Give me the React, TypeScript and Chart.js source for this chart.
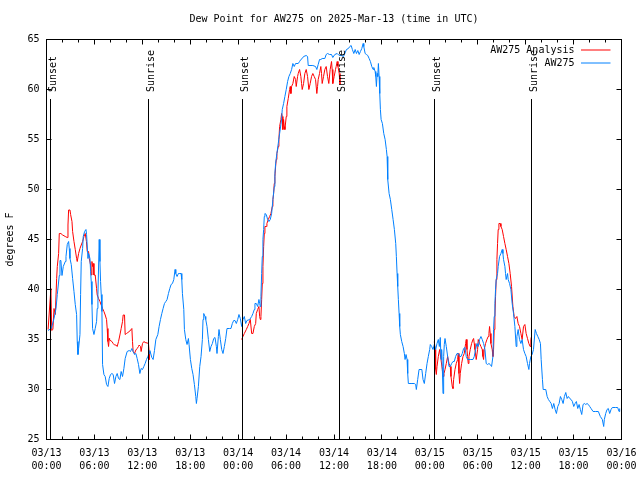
import { useEffect, useRef } from 'react';
import { Chart, registerables } from 'chart.js';

Chart.register(...registerables);

const TITLE = 'Dew Point for AW275 on 2025-Mar-13 (time in UTC)';
const Y_TITLE = 'degrees F';
const FONT = '"DejaVu Sans Mono", "Liberation Mono", monospace';

// x tick labels, one per 6 hours from 03/13 00:00 UTC
const xTickDates = ['03/13', '03/13', '03/13', '03/13', '03/14', '03/14', '03/14', '03/14', '03/15', '03/15', '03/15', '03/15', '03/16'];
const xTickTimes = ['00:00', '06:00', '12:00', '18:00', '00:00', '06:00', '12:00', '18:00', '00:00', '06:00', '12:00', '18:00', '00:00'];
const yTicks = [25, 30, 35, 40, 45, 50, 55, 60, 65];

// sun events (hours since 03/13 00:00 UTC)
const eventHours = [0.5, 12.77, 24.54, 36.69, 48.58, 60.73];
const eventNames = ['Sunset', 'Sunrise', 'Sunset', 'Sunrise', 'Sunset', 'Sunrise'];

// AW275 observed (hours since 03/13 00:00 UTC)
const blueHours = [
  0.19, 0.6, 0.94, 1.19, 1.35, 1.6, 1.69, 1.8, 1.94, 2.1, 2.35, 2.44, 2.6, 2.77, 2.85, 2.94, 3.1, 3.27, 3.44, 3.6,
  3.77, 3.85, 3.94, 4.02, 4.19, 4.27, 4.35, 4.52, 4.6, 4.77, 4.94, 5.02, 5.19, 5.27, 5.44, 5.52, 5.6, 5.69, 5.77, 5.94,
  6.1, 6.27, 6.35, 6.44, 6.6, 6.69, 6.77, 6.85, 6.94, 7.02, 7.19, 7.35, 7.52, 7.69, 7.85, 8.02, 8.19, 8.35, 8.52, 8.69,
  8.85, 9.02, 9.19, 9.35, 9.52, 9.69, 9.85, 10.1, 10.35, 10.52, 10.69, 10.85, 11.02, 11.19, 11.35, 11.52, 11.69, 11.85, 12.02, 12.19,
  12.35, 12.52, 12.69, 12.85, 12.94, 13.19, 13.35, 13.52, 13.69, 13.94, 14.1, 14.27, 14.44, 14.6, 14.77, 14.94, 15.1, 15.27, 15.44, 15.6,
  15.77, 15.94, 16.1, 16.19, 16.35, 16.52, 16.69, 16.85, 16.94, 17.02, 17.19, 17.27, 17.44, 17.6, 17.77, 17.85, 18.02, 18.19, 18.35, 18.52,
  18.69, 18.77, 18.85, 19.02, 19.19, 19.35, 19.52, 19.6, 19.69, 19.85, 19.94, 20.1, 20.27, 20.44, 20.6, 20.77, 20.94, 21.1, 21.27, 21.35,
  21.52, 21.6, 21.77, 21.94, 22.1, 22.27, 22.44, 22.6, 22.94, 23.1, 23.27, 23.44, 23.6, 23.77, 23.94, 24.1, 24.27, 24.44, 24.6, 24.77,
  24.94, 25.1, 25.44, 25.69, 25.85, 26.02, 26.1, 26.27, 26.44, 26.6, 26.69, 26.77, 26.85, 26.94, 27.02, 27.1, 27.19, 27.27, 27.35, 27.52,
  27.69, 27.85, 28.02, 28.19, 28.35, 28.52, 28.6, 28.69, 28.85, 29.02, 29.19, 29.35, 29.44, 29.52, 29.69, 29.85, 30.02, 30.19, 30.35, 30.52,
  30.69, 30.85, 31.02, 31.19, 31.52, 31.69, 31.85, 32.02, 32.19, 32.52, 32.69, 32.77, 33.35, 33.69, 33.85, 34.02, 34.19, 34.35, 34.52, 34.85,
  35.02, 35.19, 35.44, 35.69, 35.85, 36.1, 36.4, 36.65, 36.9, 37.19, 37.56, 37.8, 37.98, 38.15, 38.3, 38.48, 38.65, 38.81, 38.98, 39.15,
  39.31, 39.48, 39.65, 39.73, 39.9, 40.06, 40.23, 40.4, 40.56, 40.73, 40.9, 40.98, 41.15, 41.23, 41.31, 41.4, 41.48, 41.56, 41.65, 41.73,
  41.81, 41.9, 42.06, 42.23, 42.4, 42.56, 42.65, 42.73, 42.9, 43.06, 43.23, 43.4, 43.56, 43.73, 43.81, 43.9, 43.98, 44.06, 44.15, 44.23,
  44.31, 44.48, 44.65, 44.81, 44.9, 45.02, 45.15, 45.23, 45.31, 45.65, 46.06, 46.23, 46.31, 46.48, 46.65, 47.0, 47.15, 47.31, 47.48, 47.65,
  47.81, 47.98, 48.06, 48.23, 48.4, 48.56, 48.73, 48.9, 49.06, 49.19, 49.31, 49.4, 49.48, 49.56, 49.65, 49.73, 49.81, 49.9, 49.98, 50.06,
  50.23, 50.4, 50.56, 50.73, 50.9, 51.06, 51.23, 51.4, 51.56, 51.73, 51.9, 52.06, 52.23, 52.4, 52.56, 52.73, 53.06, 53.4, 53.56, 53.73,
  53.9, 54.06, 54.23, 54.4, 54.56, 54.73, 54.9, 55.06, 55.23, 55.4, 55.56, 55.73, 55.9, 55.98, 56.06, 56.15, 56.23, 56.31, 56.48, 56.56,
  56.73, 56.9, 57.06, 57.15, 57.23, 57.4, 57.48, 57.56, 57.73, 57.81, 57.98, 58.15, 58.31, 58.48, 58.65, 58.81, 58.9, 59.06, 59.23, 59.4,
  59.56, 59.73, 59.9, 60.06, 60.23, 60.4, 60.48, 60.65, 60.81, 60.98, 61.19, 61.35, 61.52, 61.69, 61.85, 61.94, 62.1, 62.19, 62.52, 62.69,
  62.85, 63.02, 63.19, 63.35, 63.52, 63.69, 63.85, 64.02, 64.19, 64.35, 64.52, 64.69, 64.85, 65.02, 65.19, 65.35, 65.52, 65.69, 65.85, 66.02,
  66.19, 66.35, 66.52, 66.69, 66.85, 67.02, 67.19, 67.35, 67.52, 67.69, 67.85, 68.02, 68.19, 68.44, 68.77, 69.1, 69.35, 69.6, 69.77, 69.85,
  70.02, 70.19, 70.35, 70.52, 70.69, 70.85, 71.27, 71.52, 71.69, 71.77,
];
const blueValues = [
  35.9, 36.1, 37.1, 38.1, 39.5, 41.4, 42.9, 42.9, 41.4, 42.3, 42.8, 43.3, 44.5, 44.8, 44.1, 43.1, 42.5, 41.1, 39.8, 38.5,
  37.5, 34.8, 33.5, 34.1, 35.5, 39.5, 42.8, 44.1, 45.3, 45.8, 46.0, 45.5, 43.1, 43.6, 43.1, 41.8, 40.8, 38.5, 36.1, 35.5,
  36.1, 36.8, 38.1, 39.5, 45.0, 42.8, 40.8, 39.5, 37.8, 32.5, 31.5, 31.3, 30.5, 30.3, 31.1, 31.5, 31.6, 31.5, 30.6, 31.3,
  31.6, 31.1, 31.0, 31.8, 31.3, 32.1, 33.1, 33.8, 33.9, 33.8, 34.1, 33.8, 33.5, 33.6, 33.1, 32.5, 31.6, 32.1, 32.0, 32.3,
  32.6, 33.0, 33.3, 33.6, 33.9, 33.2, 33.0, 33.9, 35.0, 35.5, 36.3, 37.0, 37.6, 38.1, 38.6, 38.8, 39.0, 39.6, 40.1, 40.5,
  40.6, 41.0, 42.0, 41.6, 41.3, 41.6, 41.6, 41.6, 41.0, 39.6, 38.0, 36.0, 35.0, 34.5, 35.1, 34.5, 33.0, 32.1, 31.5, 30.5,
  29.3, 28.6, 29.1, 30.3, 32.3, 33.3, 35.0, 37.0, 37.6, 37.3, 37.0, 36.3, 35.0, 33.8, 34.3, 34.6, 35.1, 35.2, 34.3, 33.6,
  35.3, 36.0, 35.0, 34.0, 33.6, 34.3, 35.1, 36.1, 36.1, 36.1, 36.6, 36.9, 36.9, 36.6, 37.0, 37.5, 37.1, 36.3, 37.0, 37.3,
  36.6, 36.9, 37.0, 37.3, 37.6, 38.0, 38.6, 38.6, 38.3, 39.0, 38.6, 38.3, 39.3, 41.6, 43.3, 45.0, 46.0, 47.3, 47.6, 47.5,
  47.0, 46.8, 47.0, 47.6, 49.0, 50.3, 51.6, 52.6, 53.6, 54.6, 55.6, 56.5, 57.1, 58.0, 58.6, 59.3, 60.0, 60.8, 61.3, 61.6,
  62.0, 62.6, 62.3, 62.6, 62.6, 62.8, 63.0, 63.1, 63.3, 63.4, 63.3, 62.4, 62.4, 62.3, 62.0, 62.5, 63.0, 63.0, 63.1, 63.1,
  63.5, 63.6, 63.5, 63.5, 63.2, 63.5, 63.6, 63.4, 63.4, 63.3, 64.0, 64.1, 64.3, 64.4, 64.0, 63.6, 64.0, 63.6, 63.9, 63.5,
  63.8, 64.1, 64.6, 64.3, 63.6, 63.5, 63.4, 63.1, 62.8, 62.3, 62.0, 62.2, 61.8, 61.3, 60.3, 61.6, 61.3, 62.6, 61.3, 59.6,
  58.0, 57.0, 56.6, 55.6, 55.0, 54.0, 53.3, 51.0, 49.6, 49.0, 48.0, 47.0, 46.0, 44.6, 43.3, 41.6, 40.3, 39.0, 37.6, 36.3,
  35.5, 34.8, 34.3, 33.6, 33.0, 33.5, 33.0, 31.6, 30.6, 30.6, 30.6, 30.5, 30.0, 31.0, 32.0, 32.0, 31.0, 30.6, 31.6, 32.6,
  33.3, 34.0, 34.5, 34.3, 34.0, 34.5, 34.0, 34.6, 35.0, 34.3, 35.2, 33.0, 34.0, 32.3, 29.6, 33.3, 34.5, 35.1, 35.1, 34.3,
  33.3, 32.3, 32.3, 32.6, 32.8, 32.8, 33.3, 33.6, 33.6, 33.3, 33.3, 33.6, 34.1, 34.2, 33.3, 33.0, 33.0, 33.0, 33.3, 34.0,
  34.6, 34.3, 35.0, 35.3, 35.0, 34.6, 34.0, 32.6, 32.5, 32.6, 32.5, 32.3, 33.3, 36.0, 37.3, 38.6, 40.0, 41.0, 41.6, 42.3,
  43.3, 43.6, 44.0, 43.6, 43.0, 42.3, 41.6, 41.0, 41.6, 41.0, 40.6, 40.0, 38.6, 37.6, 36.3, 34.3, 35.3, 36.0, 35.0, 34.6,
  35.0, 34.0, 33.6, 33.3, 32.6, 32.0, 32.6, 33.3, 33.5, 34.0, 36.0, 35.6, 35.3, 35.0, 34.6, 33.0, 31.0, 30.0, 30.0, 29.3,
  29.0, 28.8, 28.6, 28.1, 28.6, 28.0, 27.6, 28.3, 28.6, 29.3, 29.0, 28.6, 29.3, 29.7, 29.1, 29.3, 29.1, 29.0, 28.8, 28.3,
  28.6, 28.8, 28.1, 28.5, 28.0, 27.5, 28.5, 28.6, 28.5, 28.6, 28.5, 28.3, 28.1, 27.8, 27.8, 27.8, 27.3, 27.0, 26.3, 27.0,
  27.6, 28.0, 28.1, 27.6, 28.0, 28.2, 28.2, 28.2, 27.8, 28.1,
];

// AW275 Analysis (null = no analysis in that period)
const redHours = [
  0.2, 0.55, 0.65, 0.8, 0.94, 1.1, 1.27, 1.35, 1.52, 1.6, 1.8, 2.02, 2.35, 2.6, 2.69, 2.77, 2.94, 3.02, 3.19, 3.27,
  3.44, 3.6, 3.77, 3.85, 4.02, 4.19, 4.35, 4.52, 4.69, 4.85, 5.0, 5.1, 5.27, 5.35, 5.52, 5.6, 5.69, 5.77, 5.85, 5.94,
  6.1, 6.27, 6.35, 6.52, 6.69, 6.85, 7.02, 7.19, 7.35, 7.52, 7.6, 7.69, 7.77, 7.85, 7.9, 8.19, 8.35, 8.52, 8.69, 8.85,
  9.02, 9.19, 9.35, 9.52, 9.6, 9.77, 9.85, 10.02, 10.19, 10.44, 10.69, 10.77, 10.85, 11.02, 11.19, 11.35, 11.52, 11.6, 11.77, 11.85,
  12.02, 12.19, 12.35, 12.6, 12.77, 12.85, 12.9,
  18.0,
  24.44, 24.6, 24.77, 25.02, 25.19, 25.35, 25.52, 25.69, 25.85, 26.02, 26.19, 26.27, 26.44, 26.6, 26.69, 26.77, 26.85, 26.94, 27.02, 27.1,
  27.19, 27.27, 27.35, 27.52, 27.6, 27.77, 27.94, 28.1, 28.27, 28.35, 28.44, 28.52, 28.6, 28.69, 28.77, 28.85, 29.02, 29.1, 29.19, 29.35,
  29.44, 29.52, 29.6, 29.69, 29.77, 29.85, 30.02, 30.1, 30.27, 30.44, 30.52, 30.6, 30.69, 30.85, 31.02, 31.19, 31.27, 31.44, 31.52, 31.69,
  31.85, 31.94, 32.02, 32.19, 32.35, 32.52, 32.69, 32.85, 33.02, 33.19, 33.35, 33.52, 33.69, 33.85, 33.94, 34.02, 34.19, 34.35, 34.44, 34.52,
  34.69, 34.85, 35.02, 35.19, 35.35, 35.52, 35.69, 35.77, 35.85, 36.02, 36.19, 36.27, 36.4, 36.5, 36.65, 36.75,
  42.0,
  48.56, 48.65, 48.73, 48.81, 48.9, 49.06, 49.23, 49.4, 49.56, 49.65, 49.77, 49.9, 50.06, 50.23, 50.4, 50.56, 50.65, 50.81, 50.9, 50.98,
  51.15, 51.31, 51.48, 51.56, 51.65, 51.73, 51.81, 51.98, 52.15, 52.31, 52.48, 52.56, 52.65, 52.73, 52.81, 52.9, 53.06, 53.23, 53.4, 53.48,
  53.56, 53.65, 53.81, 53.98, 54.06, 54.23, 54.4, 54.56, 54.65, 54.73, 54.81, 54.98, 55.15, 55.31, 55.4, 55.48, 55.56, 55.65, 55.81, 55.9,
  55.98, 56.06, 56.15, 56.23, 56.31, 56.4, 56.48, 56.56, 56.65, 56.81, 56.9, 57.06, 57.23, 57.4, 57.56, 57.73, 57.9, 58.06, 58.23, 58.4,
  58.56, 58.73, 58.9, 59.06, 59.23, 59.4, 59.56, 59.73, 59.9, 60.06, 60.23, 60.4, 60.56, 60.65, 60.73,
];
const redValues = [
  36.0, 40.1, 35.9, 36.0, 38.1, 37.5, 41.1, 42.3, 43.6, 45.6, 45.6, 45.45, 45.3, 45.2, 46.45, 47.95, 47.95, 47.5, 46.8, 45.8,
  44.8, 44.0, 43.1, 42.8, 43.6, 44.1, 44.45, 44.8, 45.3, 45.6, 44.8, 43.8, 43.8, 43.1, 42.45, 41.45, 42.8, 42.3, 42.6, 41.45,
  41.45, 40.1, 39.45, 39.1, 38.8, 38.45, 38.1, 37.8, 37.45, 37.0, 36.1, 34.8, 34.3, 35.1, 34.95, 34.8, 34.6, 34.45, 34.45, 34.3,
  34.8, 35.45, 36.1, 36.8, 37.45, 37.45, 35.5, 35.6, 35.7, 35.85, 36.1, 34.8, 33.8, 33.6, 33.95, 34.1, 34.3, 34.45, 34.3, 33.8,
  34.6, 34.8, 34.7, 34.65, 34.6, 33.8, 33.0,
  null,
  35.0, 35.3, 35.6, 36.0, 36.3, 36.6, 37.0, 35.6, 35.6, 36.3, 36.6, 37.6, 38.0, 38.3, 37.3, 37.0, 37.3, 39.0, 40.6, 42.3,
  44.3, 45.6, 46.3, 46.3, 46.6, 47.0, 47.3, 47.6, 48.3, 49.0, 49.6, 50.6, 51.3, 52.3, 53.0, 53.6, 54.3, 55.0, 56.3, 57.0,
  57.6, 57.3, 56.0, 57.0, 56.3, 56.0, 57.3, 58.3, 59.1, 60.0, 60.3, 59.6, 60.3, 60.6, 61.3, 61.0, 60.3, 61.3, 61.6, 62.0,
  61.3, 60.6, 60.0, 60.6, 61.6, 62.0, 61.3, 60.0, 60.6, 61.3, 61.6, 61.3, 61.0, 59.6, 60.3, 61.0, 61.6, 62.3, 61.6, 60.6,
  61.3, 62.0, 62.3, 61.3, 60.6, 62.0, 62.8, 62.0, 60.6, 61.3, 62.0, 62.3, 62.8, 62.3, 61.6, 60.5,
  null,
  34.8, 34.0, 32.0, 31.5, 32.3, 33.3, 34.0, 33.0, 32.0, 31.3, 31.6, 32.0, 32.6, 33.3, 32.6, 32.3, 31.3, 30.3, 30.1, 31.0,
  32.0, 32.6, 33.0, 33.6, 31.6, 30.6, 31.6, 32.6, 33.3, 33.6, 34.6, 35.0, 34.0, 33.3, 32.6, 33.3, 34.0, 34.6, 35.0, 35.1,
  34.6, 34.0, 33.0, 34.0, 35.0, 34.6, 34.3, 34.0, 33.3, 33.0, 34.0, 34.6, 35.0, 35.3, 35.6, 36.3, 35.6, 34.6, 34.0, 33.3,
  34.0, 36.0, 37.3, 39.3, 41.0, 43.0, 44.6, 46.0, 46.6, 46.6, 46.3, 46.0, 45.3, 44.6, 44.0, 43.3, 42.6, 41.6, 40.3, 38.3,
  37.3, 37.1, 37.3, 36.6, 36.3, 35.6, 35.0, 36.3, 36.5, 35.6, 35.1, 34.6, 34.3, 35.0, 35.3,
];

const RED = '#ff0000';
const BLUE = '#0080ff';

const decorPlugin = {
  id: 'gnuplotDecor',
  afterDatasetsDraw(chart: any) {
    const { ctx, chartArea: a } = chart;
    const xs = chart.scales.x;
    const ys = chart.scales.y;
    const font = `10px ${FONT}`;
    ctx.save();
    ctx.strokeStyle = '#000';
    ctx.fillStyle = '#000';
    ctx.lineWidth = 1;
    ctx.font = font;

    // sun event lines and labels
    eventHours.forEach((h, i) => {
      const px = Math.floor(xs.getPixelForValue(h)) + 0.5;
      ctx.beginPath();
      ctx.moveTo(px, a.top + 59.5);
      ctx.lineTo(px, a.bottom);
      ctx.stroke();
      ctx.save();
      ctx.translate(px + 5.5, a.top + 52.5);
      ctx.rotate(-Math.PI / 2);
      ctx.textAlign = 'left';
      ctx.textBaseline = 'alphabetic';
      ctx.fillText(eventNames[i], 0, 0);
      ctx.restore();
    });

    // frame
    ctx.strokeRect(a.left, a.top, a.right - a.left, a.bottom - a.top);

    // inward ticks, mirrored
    ctx.beginPath();
    for (let h = 0; h <= 72; h += 2) {
      const px = Math.floor(xs.getPixelForValue(h)) + 0.5;
      const len = h % 6 === 0 ? 5 : 3;
      ctx.moveTo(px, a.bottom);
      ctx.lineTo(px, a.bottom - len);
      ctx.moveTo(px, a.top);
      ctx.lineTo(px, a.top + len);
    }
    yTicks.forEach((v) => {
      const py = Math.floor(ys.getPixelForValue(v)) + 0.5;
      ctx.moveTo(a.left, py);
      ctx.lineTo(a.left + 5, py);
      ctx.moveTo(a.right, py);
      ctx.lineTo(a.right - 5, py);
    });
    ctx.stroke();

    // key (top right, inside)
    chart.data.datasets.forEach((ds: any, i: number) => {
      const ty = a.top + 10.5 + i * 13;
      ctx.fillStyle = '#000';
      ctx.textAlign = 'right';
      ctx.textBaseline = 'middle';
      ctx.fillText(ds.label, a.right - 47, ty + 0.5);
      ctx.strokeStyle = ds.borderColor;
      ctx.beginPath();
      ctx.moveTo(a.right - 40.5, ty);
      ctx.lineTo(a.right - 11, ty);
      ctx.stroke();
    });
    ctx.restore();
  },
};

export default function App() {
  const ref = useRef<HTMLCanvasElement | null>(null);

  useEffect(() => {
    if (!ref.current) return;
    const chart = new Chart(ref.current, {
      type: 'line',
      data: {
        datasets: [
          {
            label: 'AW275 Analysis',
            data: redHours.map((h, i) => ({ x: h, y: redValues[i] })),
            borderColor: RED,
            backgroundColor: RED,
            borderWidth: 1,
            pointRadius: 0,
            tension: 0,
            spanGaps: false,
            order: 2,
          },
          {
            label: 'AW275',
            data: blueHours.map((h, i) => ({ x: h, y: blueValues[i] })),
            borderColor: BLUE,
            backgroundColor: BLUE,
            borderWidth: 1,
            pointRadius: 0,
            tension: 0,
            order: 1,
          },
        ],
      },
      options: {
        animation: false,
        responsive: false,
        devicePixelRatio: 1,
        layout: { padding: { left: 0, right: 18.5, top: 0, bottom: 0 } },
        plugins: {
          legend: { display: false },
          tooltip: { enabled: false },
          title: {
            display: true,
            text: TITLE,
            fullSize: false,
            color: '#000',
            font: { family: FONT, size: 10, weight: 'normal', lineHeight: 1.2 },
            padding: { top: 13.5, bottom: 14 },
          },
        },
        scales: {
          x: {
            type: 'linear',
            min: 0,
            max: 72,
            afterFit: (s: any) => {
              s.height = 40.5;
              s.paddingLeft = 0;
              s.paddingRight = 0;
            },
            grid: { display: false, drawTicks: false },
            border: { display: false },
            ticks: {
              stepSize: 6,
              autoSkip: false,
              maxTicksLimit: 20,
              maxRotation: 0,
              minRotation: 0,
              padding: 7.1,
              color: '#000',
              font: { family: FONT, size: 10, lineHeight: 1.34 },
              callback: (v: any) => {
                const i = Math.round(Number(v) / 6);
                return [xTickDates[i], xTickTimes[i]];
              },
            },
          },
          y: {
            type: 'linear',
            min: 25,
            max: 65,
            afterFit: (s: any) => {
              s.width = 46.5;
              s.paddingTop = 0;
              s.paddingBottom = 0;
            },
            grid: { display: false, drawTicks: false },
            border: { display: false },
            ticks: {
              stepSize: 5,
              padding: 7,
              color: '#000',
              font: { family: FONT, size: 10 },
              callback: (v: any) => String(v),
            },
            title: {
              display: true,
              text: Y_TITLE,
              color: '#000',
              font: { family: FONT, size: 10, lineHeight: 1.2 },
              padding: { top: 4, bottom: 0 },
            },
          },
        },
      },
      plugins: [decorPlugin],
    } as any);
    return () => chart.destroy();
  }, []);

  return (
    <div style={{ position: 'absolute', left: 0, top: 0, width: 640, height: 480, background: '#fff' }}>
      <canvas ref={ref} width={640} height={480} style={{ width: 640, height: 480, display: 'block' }} />
    </div>
  );
}
